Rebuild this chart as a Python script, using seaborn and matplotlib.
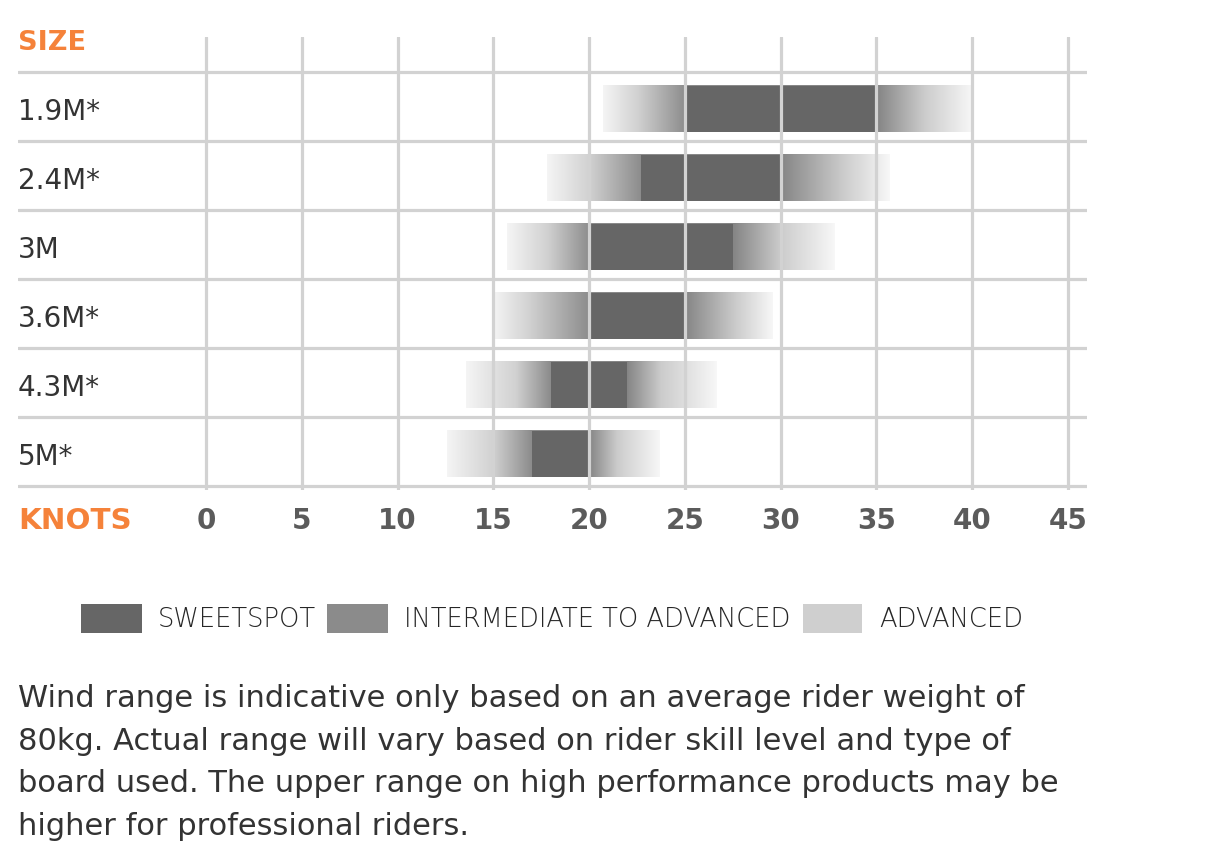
import numpy as np
import pandas as pd
import seaborn as sns
import matplotlib.pyplot as plt
from matplotlib.patches import Rectangle

# --- Data ---
sizes = ["1.9M*", "2.4M*", "3M", "3.6M*", "4.3M*", "5M*"]
adv_lo = [20.7, 17.8, 15.7, 15.0, 13.6, 12.6]
adv_hi = [40.0, 35.7, 32.8, 29.6, 26.7, 23.7]
int_lo = [22.5, 20.0, 17.8, 16.9, 16.2, 15.0]
int_hi = [37.5, 33.3, 30.0, 27.7, 23.8, 21.5]
sweet_lo = [25.0, 22.7, 20.0, 20.0, 18.0, 17.0]
sweet_hi = [35.0, 30.0, 27.5, 25.0, 22.0, 20.0]
knots = [0, 5, 10, 15, 20, 25, 30, 35, 40, 45]
legend_labels = ["SWEETSPOT", "INTERMEDIATE TO ADVANCED", "ADVANCED"]
note_lines = [
    "Wind range is indicative only based on an average rider weight of",
    "80kg. Actual range will vary based on rider skill level and type of",
    "board used. The upper range on high performance products may be",
    "higher for professional riders.",
]

ORANGE = "#f5823a"
GRID = "#d2d2d2"
DARK = "#666666"
MID = "#8b8b8b"
LIGHT = "#cfcfcf"
TEXT = "#333333"

sns.set_theme(style="white")
plt.rcParams["font.family"] = ["DejaVu Sans"]

W, H = 1216, 861
fig = plt.figure(figsize=(W / 100, H / 100), dpi=100)
ax = fig.add_axes([18 / W, 1 - 490 / H, (1087 - 18) / W, (490 - 37) / H])

bar_h = 0.67
row_shift = 0.034  # bars sit slightly below the middle of their row

# gradient for the advanced / intermediate part of every bar
for i in range(len(sizes)):
    xs = np.linspace(adv_lo[i], adv_hi[i], 600)
    g = np.interp(xs,
                  [adv_lo[i], int_lo[i], sweet_lo[i], sweet_hi[i], int_hi[i], adv_hi[i]],
                  [0.96, 0.82, 0.55, 0.52, 0.80, 0.97])
    img = np.dstack([g, g, g])
    ax.imshow(img, extent=(adv_lo[i], adv_hi[i], i + bar_h / 2, i - bar_h / 2),
              aspect="auto", interpolation="bilinear", zorder=1)

# sweetspot core
df = pd.DataFrame({"size": sizes,
                   "span": np.subtract(sweet_hi, sweet_lo),
                   "start": sweet_lo})
sns.barplot(data=df, x="span", y="size", orient="y", left=df["start"].to_numpy(),
            color=DARK, saturation=1, width=bar_h, linewidth=0, errorbar=None,
            ax=ax, zorder=2)

# grid
for k in knots:
    ax.axvline(k, color=GRID, lw=2.3, zorder=3)
for i in range(len(sizes) + 1):
    ax.axhline(i - 0.5 - row_shift, color=GRID, lw=2.3, zorder=0.5)

ax.set_xlim(-9.81, 45.99)
ax.set_ylim(5.519, -1.046)
for s in ax.spines.values():
    s.set_visible(False)
ax.set_ylabel("")
ax.set_xlabel("")
ax.set_yticks([])

ax.set_xticks(knots)
ax.set_xticklabels([str(k) for k in knots], fontsize=20, fontweight="bold", color="#5b5b5b")
ax.tick_params(axis="x", length=0, pad=28.4)
for lbl in ax.get_xticklabels():
    lbl.set_verticalalignment("baseline")

# row labels
for i, s in enumerate(sizes):
    ax.text(0.0, i + 0.157, s, transform=ax.get_yaxis_transform(),
            fontsize=20, color=TEXT, va="baseline", ha="left")

fig.text(18 / W, 1 - 50 / H, "SIZE", fontsize=19.5, fontweight="bold", color=ORANGE, va="baseline")
fig.text(18 / W, 1 - 529 / H, "KNOTS", fontsize=21.2, fontweight="bold", color=ORANGE, va="baseline")

# legend
patch_x = [81, 327, 803]
patch_w = [61, 61, 59]
text_x = [158, 404, 879]
for px, pw, tx, lab, c in zip(patch_x, patch_w, text_x, legend_labels, [DARK, MID, LIGHT]):
    fig.patches.append(Rectangle((px / W, 1 - 633 / H), pw / W, 29 / H,
                                 transform=fig.transFigure, facecolor=c, edgecolor="none"))
    fig.text(tx / W, 1 - 627 / H, lab, fontsize=18.5, fontweight="light", color="#262626", va="baseline")

# note
for y, line in zip([706.7, 750, 791.7, 835], note_lines):
    fig.text(18 / W, 1 - y / H, line, fontsize=22, color=TEXT, va="baseline")

fig.savefig("out.png", dpi=100, facecolor="white")
